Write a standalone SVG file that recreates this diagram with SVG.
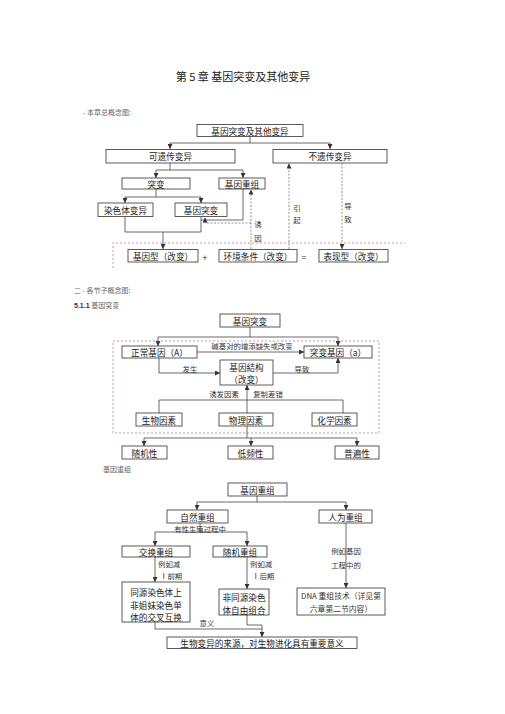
<svg xmlns="http://www.w3.org/2000/svg" width="505" height="714" viewBox="0 0 505 714">
<style>
.bx{fill:#fff;stroke:#333;stroke-width:0.8}
.t{font-family:"Noto Sans CJK SC","Liberation Sans",sans-serif;font-size:8.6px;fill:#222;text-anchor:middle;dominant-baseline:central}
.s{font-family:"Noto Sans CJK SC","Liberation Sans",sans-serif;font-size:7.4px;fill:#333;dominant-baseline:central}
.m{text-anchor:middle}
.h{font-family:"Noto Sans CJK SC","Liberation Sans",sans-serif;font-size:7px;fill:#666;dominant-baseline:central}
.ln{fill:none;stroke:#444;stroke-width:0.8}
.dl{fill:none;stroke:#666;stroke-width:0.7;stroke-dasharray:2,1.5}
.pk{fill:none;stroke:#d06070;stroke-width:0.7;stroke-dasharray:2,2}
</style>
<defs>
<marker id="a" viewBox="0 0 6 6" refX="6" refY="3" markerWidth="5" markerHeight="5" orient="auto" markerUnits="userSpaceOnUse"><path d="M0,0 L6,3 L0,6 z" fill="#333"/></marker>
</defs>
<rect width="505" height="714" fill="#fff"/>
<text x="243" y="76" style="font-family:'Noto Sans CJK SC','Liberation Sans',sans-serif;font-size:11px;fill:#222;text-anchor:middle;dominant-baseline:central">第 5 章  基因突变及其他变异</text>
<text x="83" y="112" class="h">- 本章总概念图:</text>
<text x="74" y="290" class="h">二 - 各节子概念图:</text>
<text x="74" y="305" class="h"><tspan style="font-family:'Liberation Sans',sans-serif;font-weight:bold;fill:#333">5.1.1</tspan> 基因突变</text>
<text x="103" y="469" class="h">基因重组</text>

<g id="connectors">
<path class="ln" d="M250,137 V143 M170,143 H330"/>
<path class="ln" d="M170,143 V149" marker-end="url(#a)"/>
<path class="ln" d="M330,143 V149" marker-end="url(#a)"/>
<path class="ln" d="M170,163 V170 M156,170 H243"/>
<path class="ln" d="M156,170 V178" marker-end="url(#a)"/>
<path class="ln" d="M243,170 V178" marker-end="url(#a)"/>
<path class="ln" d="M156,189 V197 M125,197 H201"/>
<path class="ln" d="M125,197 V203" marker-end="url(#a)"/>
<path class="ln" d="M201,197 V203" marker-end="url(#a)"/>
<path class="ln" d="M125,217 V232 H201 V217 M243,189 V220 H201"/>
<path class="ln" d="M163,232 V249" marker-end="url(#a)"/>
<path class="dl" d="M251,249 V189.5" marker-end="url(#a)"/>
<path class="dl" d="M251,223 H205 V217.5" marker-end="url(#a)"/>
<path class="dl" d="M289,249 V163.5" marker-end="url(#a)"/>
<path class="dl" d="M342,163 V249" marker-end="url(#a)"/>
<path class="pk" d="M113,268 V243 H405"/>

<path class="ln" d="M250,327 V337 M158,337 H338"/>
<path class="ln" d="M158,337 V346" marker-end="url(#a)"/>
<path class="ln" d="M338,337 V346" marker-end="url(#a)"/>
<rect class="pk" x="113" y="341" width="266" height="92"/>
<path class="ln" d="M197,352 H304" marker-end="url(#a)"/>
<path class="ln" d="M159,358 V373 H220" marker-end="url(#a)"/>
<path class="ln" d="M273,373 H338 V358" marker-end="url(#a)"/>
<path class="ln" d="M247,413 V385" marker-end="url(#a)"/>
<path class="ln" d="M159,400 H343 M159,400 V413 M343,400 V413"/>
<path class="ln" d="M247,426 V438 M144,438 H357"/>
<path class="ln" d="M144,438 V446" marker-end="url(#a)"/>
<path class="ln" d="M251,438 V446" marker-end="url(#a)"/>
<path class="ln" d="M357,438 V446" marker-end="url(#a)"/>

<path class="ln" d="M257,496 V502 M197,502 H346"/>
<path class="ln" d="M197,502 V510" marker-end="url(#a)"/>
<path class="ln" d="M346,502 V510" marker-end="url(#a)"/>
<path class="ln" d="M200,523 V532 M155,532 H247"/>
<path class="ln" d="M155,532 V546" marker-end="url(#a)"/>
<path class="ln" d="M247,532 V546" marker-end="url(#a)"/>
<path class="ln" d="M155,557 V582" marker-end="url(#a)"/>
<path class="ln" d="M247,557 V589" marker-end="url(#a)"/>
<path class="ln" d="M346,523 V588" marker-end="url(#a)"/>
<path class="ln" d="M155,622 V629 H262 M247,615 V625 H262"/>
<path class="ln" d="M262,625 V637" marker-end="url(#a)"/>
</g>

<g id="edge-labels">
<text class="s m" x="258" y="223">诱</text>
<text class="s m" x="258" y="237">因</text>
<text class="s m" x="297" y="207">引</text>
<text class="s m" x="297" y="219">起</text>
<text class="s m" x="348" y="205">导</text>
<text class="s m" x="348" y="218">致</text>
<text class="t" x="205" y="257">+</text>
<text class="t" x="304" y="257">=</text>
<text class="s m" x="252" y="345.5">碱基对的增添缺失或改变</text>
<text class="s m" x="190" y="368">发生</text>
<text class="s m" x="302" y="368">导致</text>
<text class="s m" x="224" y="393">诱发因素</text>
<text class="s m" x="268" y="393">复制差错</text>
<text class="s m" x="200" y="528">有性生殖过程中</text>
<text class="s" x="158" y="563">例如减</text>
<text class="s" x="160" y="575">Ⅰ前期</text>
<text class="s" x="250" y="563">例如减</text>
<text class="s" x="252" y="575">Ⅰ后期</text>
<text class="s m" x="346" y="550">例如基因</text>
<text class="s m" x="346" y="564">工程中的</text>
<text class="s m" x="207" y="622">意义</text>
</g>

<g id="n1"><rect class="bx" x="197" y="124.5" width="106" height="12"/><text class="t" x="250" y="130.5">基因突变及其他变异</text></g>
<g id="n2"><rect class="bx" x="106" y="149.5" width="129" height="13.5"/><text class="t" x="170.5" y="156">可遗传变异</text></g>
<g id="n3"><rect class="bx" x="273" y="149.5" width="114" height="13.5"/><text class="t" x="330" y="156">不遗传变异</text></g>
<g id="n4"><rect class="bx" x="122" y="178" width="68" height="11"/><text class="t" x="156" y="183.5">突变</text></g>
<g id="n5"><rect class="bx" x="219" y="178" width="46" height="11"/><text class="t" x="242" y="183.5">基因重组</text></g>
<g id="n6"><rect class="bx" x="98" y="203" width="55" height="13.5"/><text class="t" x="125.5" y="209.5">染色体变异</text></g>
<g id="n7"><rect class="bx" x="175" y="203" width="52" height="13.5"/><text class="t" x="201" y="209.5">基因突变</text></g>
<g id="n8"><rect class="bx" x="128" y="249.5" width="70" height="12.5"/><text class="t" x="163" y="255.7">基因型（改变）</text></g>
<g id="n9"><rect class="bx" x="219" y="249.5" width="78" height="12.5"/><text class="t" x="258" y="255.7">环境条件（改变）</text></g>
<g id="n10"><rect class="bx" x="319" y="249.5" width="69" height="12.5"/><text class="t" x="353.5" y="255.7">表现型（改变）</text></g>

<g id="m1"><rect class="bx" x="220" y="314" width="60" height="13"/><text class="t" x="250" y="320.5">基因突变</text></g>
<g id="m2"><rect class="bx" x="122" y="346" width="75" height="12"/><text class="t" x="159.5" y="352">正常基因（A）</text></g>
<g id="m3"><rect class="bx" x="304" y="346" width="68" height="12"/><text class="t" x="338" y="352">突变基因（a）</text></g>
<g id="m4"><rect class="bx" x="220" y="360" width="53" height="25"/><text class="t" x="246.5" y="366.5">基因結构</text><text class="t" x="246.5" y="379">（改变）</text></g>
<g id="m5"><rect class="bx" x="136" y="413" width="46" height="13"/><text class="t" x="159" y="419.5">生物因素</text></g>
<g id="m6"><rect class="bx" x="219" y="413" width="54" height="13"/><text class="t" x="246" y="419.5">物理因素</text></g>
<g id="m7"><rect class="bx" x="312" y="413" width="45" height="13"/><text class="t" x="334.5" y="419.5">化学因素</text></g>
<g id="m8"><rect class="bx" x="122" y="446" width="45" height="13"/><text class="t" x="144.5" y="452.5">随机性</text></g>
<g id="m9"><rect class="bx" x="228" y="446" width="45" height="13"/><text class="t" x="250.5" y="452.5">低频性</text></g>
<g id="m10"><rect class="bx" x="335" y="446" width="44" height="13"/><text class="t" x="357" y="452.5">普遍性</text></g>

<g id="r1"><rect class="bx" x="228" y="483" width="59" height="13"/><text class="t" x="257.5" y="489.5">基因重组</text></g>
<g id="r2"><rect class="bx" x="167" y="510" width="61" height="13"/><text class="t" x="197.5" y="516.5">自然重组</text></g>
<g id="r3"><rect class="bx" x="319" y="510" width="53" height="13"/><text class="t" x="345.5" y="516.5">人为重组</text></g>
<g id="r4"><rect class="bx" x="122" y="546" width="68" height="11"/><text class="t" x="156" y="551.5">交换重组</text></g>
<g id="r5"><rect class="bx" x="213" y="546" width="54" height="11"/><text class="t" x="240" y="551.5">随机重组</text></g>
<g id="r6"><rect class="bx" x="122" y="582" width="68" height="40"/><text class="t" x="156" y="592">同源染色体上</text><text class="t" x="156" y="604.5">非姐妹染色单</text><text class="t" x="156" y="617">体的交叉互换</text></g>
<g id="r7"><rect class="bx" x="219" y="589" width="50" height="26"/><text class="t" x="244" y="597">非同源染色</text><text class="t" x="244" y="609.5">体自由组合</text></g>
<g id="r8"><rect class="bx" x="297" y="588" width="88" height="27"/><text class="s m" x="341" y="595.5" style="font-size:7.8px">DNA 重组技术（详见第</text><text class="s m" x="341" y="608.5" style="font-size:7.8px">六章第二节内容）</text></g>
<g id="r9"><rect class="bx" x="167" y="637" width="190" height="11.5"/><text class="t" x="262" y="642.8">生物变异的来源，对生物进化具有重要意义</text></g>
</svg>
